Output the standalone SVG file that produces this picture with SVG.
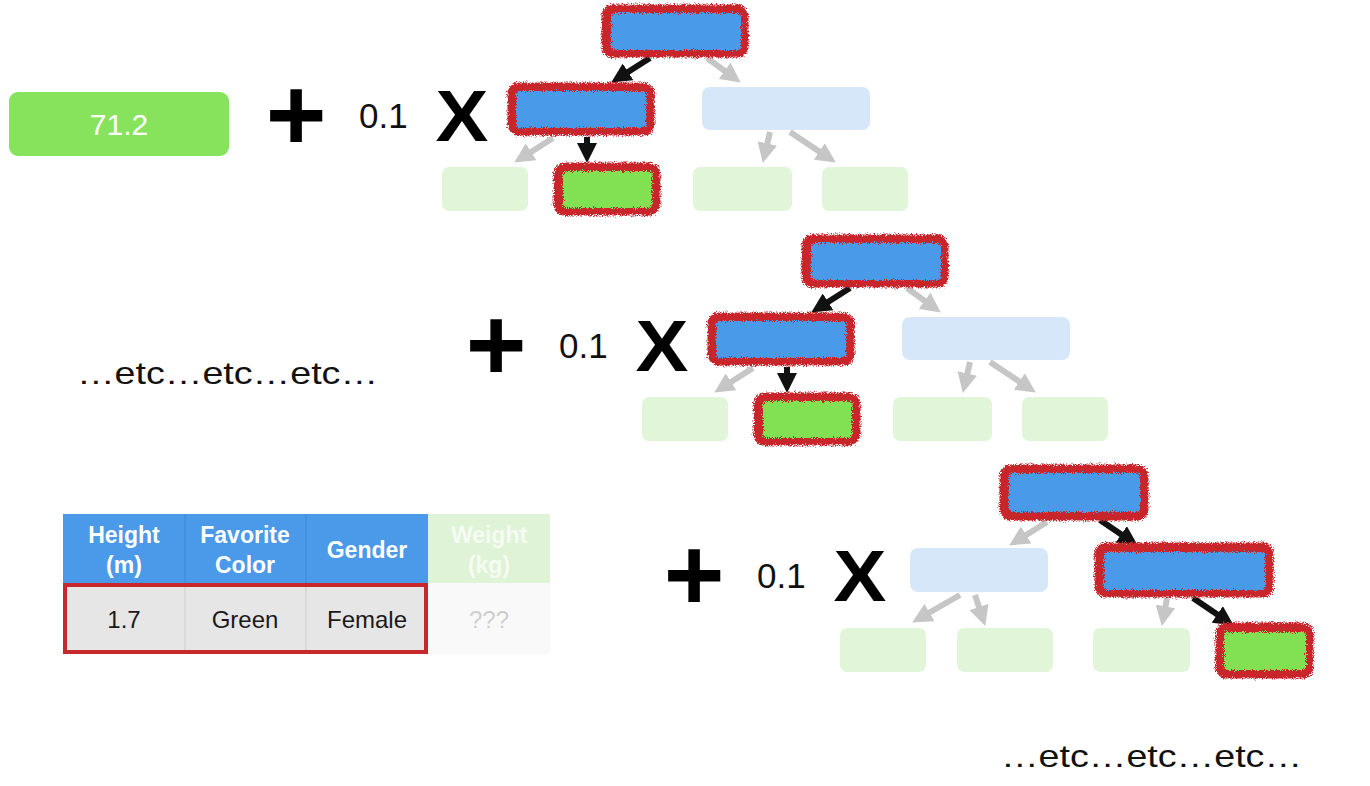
<svg xmlns="http://www.w3.org/2000/svg" width="1370" height="786" viewBox="0 0 1370 786">
<defs>
<style>
.red{fill:#c8252b;stroke:#c8252b;stroke-width:3}
.blue{fill:#4a9ae9}
.green{fill:#82e153}
.lblue{fill:#d5e7f8}
.lgreen{fill:#e1f6d9}
.ca{fill:none;stroke:#111;stroke-width:6;marker-end:url(#hb)}
.ga{fill:none;stroke:#c6c6c6;stroke-width:6;marker-end:url(#hg)}
.op{font-family:"Liberation Sans",Arial,sans-serif;font-weight:bold;fill:#000;text-anchor:middle}
.num{font-family:"Liberation Sans",Arial,sans-serif;font-size:35px;fill:#111}
.etc{font-family:"Liberation Sans",Arial,sans-serif;font-size:32px;fill:#111}
.th{font-family:"Liberation Sans",Arial,sans-serif;font-weight:bold;font-size:23px;fill:#fff;text-anchor:middle}
.td{font-family:"Liberation Sans",Arial,sans-serif;font-size:24px;fill:#1a1a1a;text-anchor:middle}
</style>
<marker id="hb" markerUnits="userSpaceOnUse" markerWidth="20" markerHeight="20" viewBox="0 0 20 20" refX="9" refY="10" orient="auto"><path d="M0,0 L20,10 L0,20 z" fill="#111"/></marker>
<marker id="hg" markerUnits="userSpaceOnUse" markerWidth="20" markerHeight="20" viewBox="0 0 20 20" refX="9" refY="10" orient="auto"><path d="M0,0 L20,10 L0,20 z" fill="#c6c6c6"/></marker>
<filter id="rough" x="-10%" y="-20%" width="120%" height="140%">
<feTurbulence type="fractalNoise" baseFrequency="1.1" numOctaves="2" seed="4" result="n"/>
<feDisplacementMap in="SourceGraphic" in2="n" scale="7" xChannelSelector="R" yChannelSelector="G"/>
</filter>
</defs>
<rect width="1370" height="786" fill="#fff"/>

<g id="result">
<rect x="9" y="92" width="220" height="64" rx="9" fill="#87e35b"/>
<text x="119" y="135" font-family="Liberation Sans, Arial, sans-serif" font-size="30" fill="#fff" text-anchor="middle">71.2</text>
</g>

<g id="operators">
<text class="op" x="296" y="150" font-size="104">+</text>
<text class="num" x="359" y="128">0.1</text>
<text class="op" x="462" y="141" font-size="72" transform="translate(462,0) scale(1.1,1) translate(-462,0)">X</text>
<text class="op" x="496" y="380" font-size="104">+</text>
<text class="num" x="559" y="358">0.1</text>
<text class="op" x="662" y="371" font-size="72" transform="translate(662,0) scale(1.1,1) translate(-662,0)">X</text>
<text class="op" x="694" y="610" font-size="104">+</text>
<text class="num" x="757" y="588">0.1</text>
<text class="op" x="860" y="601" font-size="72" transform="translate(860,0) scale(1.1,1) translate(-860,0)">X</text>
</g>

<text id="etc1" class="etc" x="77" y="384" textLength="301" lengthAdjust="spacingAndGlyphs">…etc…etc…etc…</text>
<text id="etc2" class="etc" x="1001" y="767" textLength="301" lengthAdjust="spacingAndGlyphs">…etc…etc…etc…</text>

<g id="connectors">
<g id="conn-tree1">
<path class="ca" d="M650,58 L620.5,76.7"/>
<path class="ga" d="M707,58 L731.9,76.1"/>
<path class="ga" d="M553,138 L523.5,156.7"/>
<path class="ca" d="M587,137 L587,152"/>
<path class="ga" d="M770,132 L765.3,152.3"/>
<path class="ga" d="M790,132 L826.7,156.5"/>
</g>
<g id="conn-tree2" transform="translate(200,230)">
<path class="ca" d="M650,58 L620.5,76.7"/>
<path class="ga" d="M707,58 L731.9,76.1"/>
<path class="ga" d="M553,138 L523.5,156.7"/>
<path class="ca" d="M587,137 L587,152"/>
<path class="ga" d="M770,132 L765.3,152.3"/>
<path class="ga" d="M790,132 L826.7,156.5"/>
</g>
<g id="conn-tree3">
<path class="ga" d="M1047,522 L1018.5,539.7"/>
<path class="ca" d="M1100,520 L1128.7,539.4"/>
<path class="ga" d="M960,595 L921.7,617"/>
<path class="ga" d="M975,595 L981.8,615.5"/>
<path class="ga" d="M1167,598 L1163.8,615.2"/>
<path class="ca" d="M1193,598 L1224.7,619.4"/>
</g>
</g>

<g id="tree1">
<g id="t1-root" filter="url(#rough)"><rect class="red" x="603" y="6" width="144" height="50" rx="10"/><rect class="blue" x="611" y="13" width="130" height="37" rx="4"/></g>
<g id="t1-left" filter="url(#rough)"><rect class="red" x="509" y="84" width="144" height="50" rx="10"/><rect class="blue" x="516" y="91" width="130" height="37" rx="4"/></g>
<g id="t1-right"><rect class="lblue" x="702" y="87" width="168" height="43" rx="8"/></g>
<g id="t1-leaf1"><rect class="lgreen" x="442" y="167" width="86" height="44" rx="7"/></g>
<g id="t1-leaf2" filter="url(#rough)"><rect class="red" x="555" y="164" width="104" height="50" rx="10"/><rect class="green" x="563" y="171" width="89" height="37" rx="4"/></g>
<g id="t1-leaf3"><rect class="lgreen" x="693" y="167" width="99" height="44" rx="7"/></g>
<g id="t1-leaf4"><rect class="lgreen" x="822" y="167" width="86" height="44" rx="7"/></g>
</g>

<g id="tree2" transform="translate(200,230)">
<g id="t2-root" filter="url(#rough)"><rect class="red" x="603" y="6" width="144" height="50" rx="10"/><rect class="blue" x="611" y="13" width="130" height="37" rx="4"/></g>
<g id="t2-left" filter="url(#rough)"><rect class="red" x="509" y="84" width="144" height="50" rx="10"/><rect class="blue" x="516" y="91" width="130" height="37" rx="4"/></g>
<g id="t2-right"><rect class="lblue" x="702" y="87" width="168" height="43" rx="8"/></g>
<g id="t2-leaf1"><rect class="lgreen" x="442" y="167" width="86" height="44" rx="7"/></g>
<g id="t2-leaf2" filter="url(#rough)"><rect class="red" x="555" y="164" width="104" height="50" rx="10"/><rect class="green" x="563" y="171" width="89" height="37" rx="4"/></g>
<g id="t2-leaf3"><rect class="lgreen" x="693" y="167" width="99" height="44" rx="7"/></g>
<g id="t2-leaf4"><rect class="lgreen" x="822" y="167" width="86" height="44" rx="7"/></g>
</g>

<g id="tree3">
<g id="t3-root" filter="url(#rough)"><rect class="red" x="1001" y="466" width="146" height="53" rx="10"/><rect class="blue" x="1009" y="473" width="131" height="39" rx="4"/></g>
<g id="t3-left"><rect class="lblue" x="910" y="548" width="138" height="44" rx="8"/></g>
<g id="t3-right" filter="url(#rough)"><rect class="red" x="1096" y="544" width="176" height="52" rx="10"/><rect class="blue" x="1104" y="552" width="161" height="38" rx="4"/></g>
<g id="t3-leaf1"><rect class="lgreen" x="840" y="628" width="86" height="44" rx="7"/></g>
<g id="t3-leaf2"><rect class="lgreen" x="957" y="628" width="96" height="44" rx="7"/></g>
<g id="t3-leaf3"><rect class="lgreen" x="1093" y="628" width="97" height="44" rx="7"/></g>
<g id="t3-leaf4" filter="url(#rough)"><rect class="red" x="1217" y="624" width="95" height="53" rx="10"/><rect class="green" x="1224" y="632" width="82" height="38" rx="4"/></g>
</g>

<g id="table">
<rect x="63" y="514" width="365" height="69" fill="#4a9ae9"/>
<rect x="428" y="514" width="122" height="69" fill="#dff3d6"/>
<rect x="63" y="583" width="365" height="71" fill="#e6e6e6"/>
<rect x="428" y="583" width="122" height="71" fill="#f9f9f9"/>
<path d="M185,514 V583 M306,514 V583" stroke="#3d88d6" stroke-width="1"/>
<path d="M185,583 V654 M306,583 V654" stroke="#cdcdcd" stroke-width="1"/>
<text class="th" x="124" y="543">Height</text>
<text class="th" x="124" y="573">(m)</text>
<text class="th" x="245" y="543">Favorite</text>
<text class="th" x="245" y="573">Color</text>
<text class="th" x="367" y="558">Gender</text>
<text class="th" x="489" y="543" style="fill:#f6fbf3">Weight</text>
<text class="th" x="489" y="573" style="fill:#f6fbf3">(kg)</text>
<text class="td" x="124" y="628">1.7</text>
<text class="td" x="245" y="628">Green</text>
<text class="td" x="367" y="628">Female</text>
<text class="td" x="489" y="628" style="fill:#cfcfcf">???</text>
<rect x="65" y="585" width="361" height="67" fill="none" stroke="#c8272c" stroke-width="4"/>
</g>
</svg>
